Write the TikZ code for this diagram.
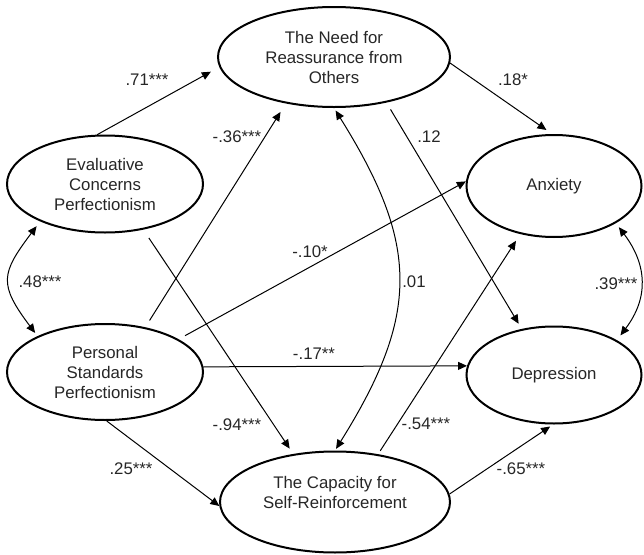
\documentclass[tikz,border=0pt]{standalone}
\usepackage{fontspec}
\setmainfont{Liberation Sans}
\usetikzlibrary{arrows.meta,shapes.geometric}
\newcommand\tipsize{length=4.5pt,width=4pt}
\newcommand\txtcol{black!85}

\begin{document}
\begin{tikzpicture}[
x=0.5pt,y=0.5pt,
font=\fontsize{8.4}{10}\selectfont,
latent/.style={ellipse,draw,line width=1pt,inner sep=0pt,align=center,text=\txtcol},
effect/.style={-{Triangle[\tipsize]},line width=0.5pt},
covar/.style={{Triangle[\tipsize]}-{Triangle[\tipsize]},line width=0.5pt},
coef/.style={text=\txtcol,inner sep=0pt}
]
\useasboundingbox (0,0) rectangle (644,554);

% latent variables
\node[latent,minimum width=98pt,minimum height=48.5pt] (eval) at (105,370) {Evaluative\\Concerns\\Perfectionism};
\node[latent,minimum width=98pt,minimum height=48pt] (pers) at (105,182) {Personal\\Standards\\Perfectionism};
\node[latent,minimum width=116pt,minimum height=50pt] (need) at (334,497) {The Need for\\Reassurance from\\Others};
\node[latent,minimum width=115pt,minimum height=50.5pt] (cap) at (335,52) {The Capacity for\\Self-Reinforcement\\~};
\node[latent,minimum width=87.5pt,minimum height=51pt] (anx) at (554,368) {Anxiety};
\node[latent,minimum width=87.5pt,minimum height=48.5pt] (dep) at (554,179) {Depression};

% paths
\draw[effect,shorten >=4.8pt] (eval.99) -- (need.185);
\draw[effect,shorten <=4pt,shorten >=5pt] (pers.48) -- (need.224);
\draw[effect,shorten <=5pt,shorten >=3.2pt] (eval.-50) -- (cap.131);
\draw[effect,shorten <=3.7pt] (pers.24) -- (anx.177);
\draw[effect] (pers.3) -- (dep.174);
\draw[effect] (pers.-88) -- (cap.182);
\draw[effect,shorten >=3.5pt] (need.-3) -- (anx.92);
\draw[effect,shorten <=4pt,shorten >=3pt] (need.-41) -- (dep.125);
\draw[effect,shorten <=2pt,shorten >=4pt] (cap.48) -- (anx.235);
\draw[effect,shorten >=1.8pt] (cap.4) -- (dep.-91);

% correlations
\draw[covar,shorten <=1.5pt,shorten >=1pt] (need.-90) to[out=-58,in=58,looseness=1.2] (cap.90);
\draw[covar,shorten <=3pt,shorten >=2pt] (eval.210) to[out=-127,in=127,looseness=1.45] (pers.152);
\draw[covar,shorten <=2.5pt,shorten >=3pt] (anx.-31) to[out=-53,in=53,looseness=1.15] (dep.29);

% coefficients
\foreach \nm/\x/\y/\txt in {l71/147/474/.71***, l36/237/417/-.36***, l18/513/474/.18*,
  l12/429/417/.12, l10/310/302/-.10*, l48/40/272/.48***, l01/414/272/.01,
  l39/616/270/.39***, l17/314/200/-.17**, l94/237/129/-.94***, l25/131/85/.25***,
  l54/426/130/-.54***, l65/521/85/-.65***}
{
\node[coef] (\nm) at (\x,\y) {\txt};
}
\end{tikzpicture}
\end{document}
